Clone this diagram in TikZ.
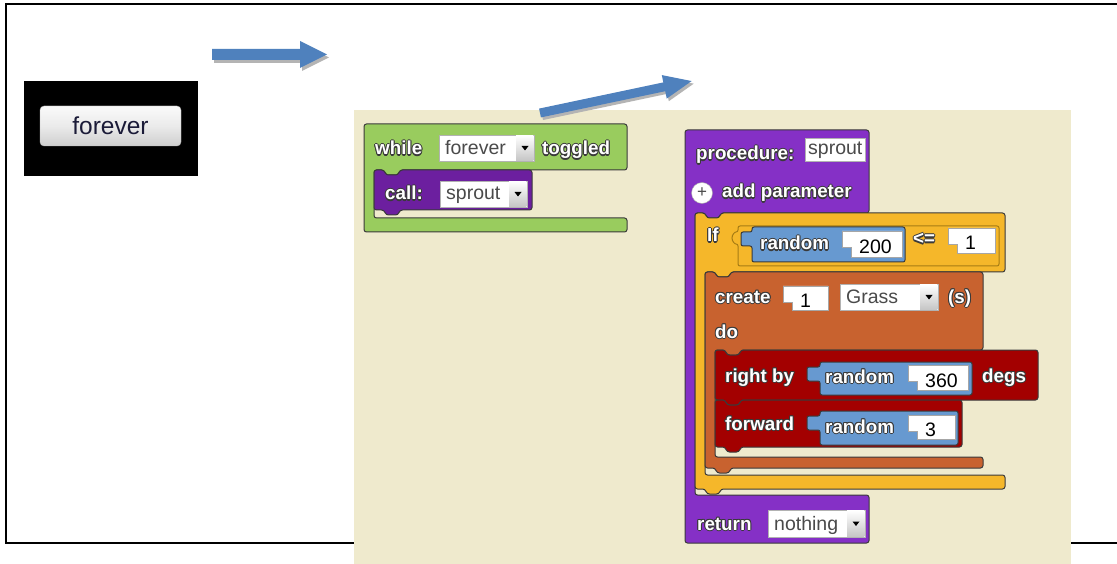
\documentclass[tikz,border=0pt]{standalone}
\usepackage{fontspec}
\setmainfont{Liberation Sans}
\usepackage{xcolor}

\definecolor{panel}{HTML}{EFEACD}
\definecolor{arrowblue}{HTML}{4F81BD}
\definecolor{arrowshade}{HTML}{B4B4B4}
\definecolor{buttontext}{HTML}{1B1B38}
\definecolor{loopgreen}{HTML}{99CC5E}
\definecolor{callpurple}{HTML}{6C1F9F}
\definecolor{procpurple}{HTML}{8530C6}
\definecolor{ifyellow}{HTML}{F5B72A}
\definecolor{ifedge}{HTML}{A67C14}
\definecolor{makeorange}{HTML}{C8622F}
\definecolor{turnred}{HTML}{A30000}
\definecolor{randblue}{HTML}{6799D0}
\definecolor{blockedge}{HTML}{3A3A3A}
\definecolor{fieldtext}{HTML}{4A4A4A}

\newcommand\lblfont{\bfseries\fontsize{18.8}{20}\selectfont}
\newcommand\fieldfont{\fontsize{19.5}{21}\selectfont}

% white block label with a dark rim
\newcommand\blocktext[1]{{\setbox0=\hbox{#1}%
  \rlap{\color{blockedge}\kern-1pt\copy0}%
  \rlap{\color{blockedge}\kern1pt\copy0}%
  \rlap{\color{blockedge}\raise1pt\copy0}%
  \rlap{\color{blockedge}\lower1.1pt\copy0}%
  \rlap{\color{blockedge}\kern.75pt\raise.75pt\copy0}%
  \rlap{\color{blockedge}\kern-.75pt\raise.75pt\copy0}%
  \rlap{\color{blockedge}\kern.75pt\lower.8pt\copy0}%
  \rlap{\color{blockedge}\kern-.75pt\lower.8pt\copy0}%
  \box0}}

% name, x0, y0, x1, y1, baseline, text
\newcommand\dropdown[7]{%
  \draw[fieldedge,fill=white] (#2,#3) rectangle (#4,#5);
  \shade[top color=white,bottom color=gray!45] ({#4-18},{#3+0.6}) rectangle ({#4-0.6},{#5-0.6});
  \fill[black] ({#4-12.5},{(#3+#5)/2-2}) -- ++(7,0) -- ++(-3.5,4.5) -- cycle;
  \node[field] (#1) at ({#2+6},#6) {#7};}

% name, x0, y0, x1, y1, number
\newcommand\socket[6]{%
  \fill[white,draw=gray!70,line width=.6pt] (#2,#3) -- (#4,#3) -- (#4,#5) -- ({#2+9},#5)
    -- ({#2+9},{#3+16}) -- (#2,{#3+16}) -- cycle;
  \node[num] (#1) at ({#2+17},{#5-3}) {#6};}

% length, shaft half width, head length, head half width
\newcommand\fatarrow[4]{(0,-#2) -- ({#1-#3},-#2) -- ({#1-#3},-#4) -- (#1,0) -- ({#1-#3},#4) -- ({#1-#3},#2) -- (0,#2) -- cycle}

\begin{document}
\begin{tikzpicture}[x=1pt,y=-1pt,
  blk/.style={draw=blockedge,line width=1pt,rounded corners=2.5pt},
  notch/.style={insert path={-- ++(2,5) -- ++(12,0) -- ++(2,-5)}},
  bump/.style={insert path={-- ++(-2,5) -- ++(-12,0) -- ++(-2,-5)}},
  lbl/.style={anchor=base west,inner sep=0pt,text=white,font=\lblfont},
  field/.style={anchor=base west,inner sep=0pt,text=fieldtext,font=\fieldfont},
  num/.style={anchor=base west,inner sep=0pt,text=black,font=\fieldfont},
  fieldedge/.style={draw=gray!60,line width=.6pt}]
\useasboundingbox (0,0) rectangle (1117,564);
\fill[white] (0,0) rectangle (1117,564);
\draw[line width=2pt] (5.5,4) rectangle (1140,543);

% the button
\fill[black] (24,81) rectangle (198,176);
\node[draw=gray!55,rounded corners=4pt,top color=gray!4,bottom color=gray!38,middle color=gray!16,
  minimum width=141,minimum height=40,inner sep=0pt,text=buttontext,
  font=\fontsize{24.5}{26}\selectfont] (foreverBtn) at (110.5,126) {forever};

\fill[panel] (354,110) rectangle (1071,564);

% arrows
\begin{scope}[shift={(212,54.5)}]
  \fill[arrowshade,shift={(2,3)}] \fatarrow{115}{5.5}{27}{13.5};
  \fill[arrowblue] \fatarrow{115}{5.5}{27}{13.5};
\end{scope}
\begin{scope}[shift={(540,113)},rotate=11.9]
  \fill[arrowshade,shift={(1.5,3)}] \fatarrow{155}{4.5}{28}{12};
  \fill[arrowblue] \fatarrow{155}{4.5}{28}{12};
\end{scope}

% while forever toggled
\draw[blk,fill=loopgreen] (364,124) -- (627,124) -- (627,170) -- (400,170) [bump] -- (374,170)
  -- (374,218) -- (627,218) -- (627,232) -- (364,232) -- cycle;
\node[lbl] (whileLbl) at (375,155) {\blocktext{while}};
\dropdown{loopMode}{439}{135}{534}{161}{155}{forever}
\node[lbl] (toggledLbl) at (542,155) {\blocktext{toggled}};
\draw[blk,fill=callpurple] (374,170) -- (384,170) [notch] -- (532,170) -- (532,210) -- (400,210) [bump]
  -- (374,210) -- cycle;
\node[lbl] (callLbl) at (385,200) {\blocktext{call:}};
\dropdown{callName}{440}{181}{527}{207}{200}{sprout}

% procedure sprout
\draw[blk,fill=procpurple] (685,130) -- (869,130) -- (869,213) -- (721,213) [bump] -- (695,213)
  -- (695,495) -- (869,495) -- (869,543) -- (685,543) -- cycle;
\node[lbl] (procLbl) at (696,160) {\blocktext{procedure:}};
\draw[fieldedge,fill=white] (805,138) rectangle (865,161);
\node[field] (procName) at (808,155) {sprout};
\node[circle,fill=white,draw=gray!70,minimum size=21,inner sep=0pt,text=fieldtext,
  font=\fontsize{17}{18}\selectfont] (addBtn) at (702,193) {+};
\node[lbl] (addLbl) at (722,198) {\blocktext{add parameter}};
\node[lbl] (returnLbl) at (697,530) {\blocktext{return}};
\dropdown{retValue}{768}{510}{865}{537}{530}{nothing}

% if
\draw[blk,fill=ifyellow] (695,213) -- (705,213) [notch] -- (1005,213) -- (1005,272) -- (731,272) [bump]
  -- (705,272) -- (705,475) -- (1005,475) -- (1005,489) -- (721,489) [bump] -- (695,489) -- cycle;
\node[lbl] (ifLbl) at (707,242) {\blocktext{If}};
\draw[draw=ifedge,line width=1pt,fill=ifyellow,rounded corners=2pt] (738,226) -- (999,226) -- (999,266)
  -- (738,266) -- (738,244) arc[start angle=90,end angle=270,radius=6] -- cycle;
\draw[blk,fill=randblue,rounded corners=2pt] (752,227) -- (905,227) -- (905,262) -- (752,262)
  -- (752,246) -- (741,246) -- (741,232) -- (752,232) -- cycle;
\node[lbl] (randA) at (760,250) {\blocktext{random}};
\socket{maxA}{842}{231}{902}{257}{200}
\node[lbl] (cmpLbl) at (913,245) {\blocktext{<=}};
\socket{limitA}{948}{228}{995}{253}{1}

% create
\draw[blk,fill=makeorange] (705,272) -- (715,272) [notch] -- (983,272) -- (983,350) -- (741,350) [bump]
  -- (715,350) -- (715,457) -- (983,457) -- (983,468) -- (731,468) [bump] -- (705,468) -- cycle;
\node[lbl] (createLbl) at (715,303) {\blocktext{create}};
\socket{countA}{783}{286}{828}{310}{1}
\dropdown{breed}{840}{284}{938}{310}{303}{Grass}
\node[lbl] (plLbl) at (948,303) {\blocktext{(s)}};
\node[lbl] (doLbl) at (715,338) {\blocktext{do}};

% right by / forward
\draw[blk,fill=turnred] (715,350) -- (725,350) [notch] -- (1038,350) -- (1038,400) -- (741,400) [bump]
  -- (715,400) -- cycle;
\node[lbl] (rightLbl) at (725,382) {\blocktext{right by}};
\draw[blk,fill=randblue,rounded corners=2pt] (820,362) -- (972,362) -- (972,395) -- (820,395)
  -- (820,381) -- (807,381) -- (807,367) -- (820,367) -- cycle;
\node[lbl] (randB) at (825,383) {\blocktext{random}};
\socket{maxB}{908}{365}{968}{390}{360}
\node[lbl] (degsLbl) at (982,382) {\blocktext{degs}};

\draw[blk,fill=turnred] (715,400) -- (725,400) [notch] -- (962,400) -- (962,447) -- (741,447) [bump]
  -- (715,447) -- cycle;
\node[lbl] (fwdLbl) at (725,430) {\blocktext{forward}};
\draw[blk,fill=randblue,rounded corners=2pt] (820,411) -- (958,411) -- (958,445) -- (820,445)
  -- (820,430) -- (807,430) -- (807,416) -- (820,416) -- cycle;
\node[lbl] (randC) at (825,433) {\blocktext{random}};
\socket{maxC}{908}{415}{955}{439}{3}
\end{tikzpicture}
\end{document}
